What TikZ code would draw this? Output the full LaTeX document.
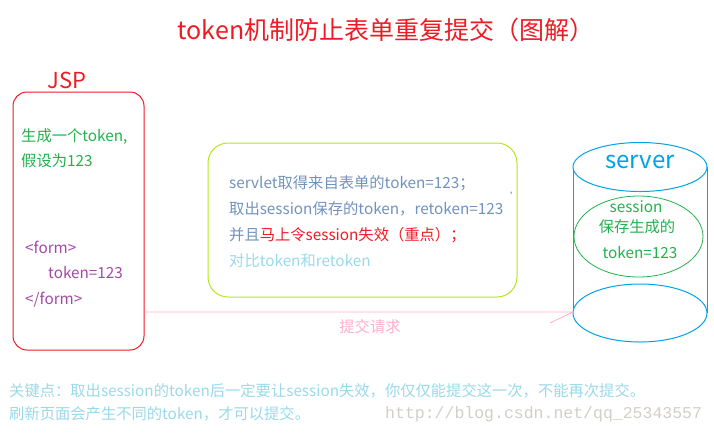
\documentclass[tikz,border=0pt]{standalone}
\usepackage{fontspec}
\setmainfont{Noto Sans CJK SC}
\newfontfamily\urlfont{Liberation Mono}
\definecolor{pred}{HTML}{ED1C24}
\definecolor{pgreen}{HTML}{22B14C}
\definecolor{ppurple}{HTML}{A349A4}
\definecolor{plime}{HTML}{B5E61D}
\definecolor{pblue}{HTML}{7092BE}
\definecolor{pcyan}{HTML}{99D9EA}
\definecolor{psky}{HTML}{00A2E8}
\definecolor{ppink}{HTML}{FFAEC9}
\definecolor{pgray}{HTML}{D2CECA}
\tikzset{
  txt/.style={font=\fontsize{15.3}{18}\selectfont, inner sep=0pt, anchor=base west},
  ctxt/.style={font=\fontsize{15.3}{18}\selectfont, inner sep=0pt, anchor=base},
  box/.style={draw, line width=1pt, rounded corners=#1, inner sep=0pt},
}
\begin{document}
\begin{tikzpicture}[x=1pt,y=-1pt]
\useasboundingbox (0,0) rectangle (714,432);
% title
\node[ctxt, font=\fontsize{25}{30}\selectfont, text=pred] (title) at (386,39.5) {token机制防止表单重复提交（图解）};
% JSP
\node[ctxt, font=\fontsize{22}{26}\selectfont, text=pred] (jsplabel) at (67,88) {JSP};
\node[box=14pt, draw=pred, minimum width=131pt, minimum height=258pt] (jsp) at (78.5,221) {};
\node[txt, text=pgreen] (j1) at (21,141) {生成一个token,};
\node[txt, text=pgreen] (j2) at (21,166) {假设为123};
\node[txt, text=ppurple] (j3) at (25,253) {<form>};
\node[txt, text=ppurple] (j4) at (48,278) {token=123};
\node[txt, text=ppurple] (j5) at (25,304) {</form>};
% servlet box
\node[box=20pt, draw=plime, minimum width=309pt, minimum height=154pt] (mid) at (362.5,220) {};
\node[txt, text=pblue] (m1) at (229,188) {servlet取得来自表单的token=123；};
\node[txt, text=pblue] (m2) at (229,214) {取出session保存的token，retoken=123};
\node[txt, text=pblue] (m3) at (229,240) {并且\textcolor{pred}{马上令session失效（重点）；}};
\node[txt, text=pcyan] (m4) at (229,266) {对比token和retoken};
\node[font=\fontsize{10}{10}\selectfont, text=gray, inner sep=0pt] (mark) at (515,196) {’};
% server cylinder
\draw[psky, line width=1pt] (573,167) -- (573,313) (707,167) -- (707,313);
\draw[psky, line width=1pt, fill=white] (640,167) ellipse [x radius=67, y radius=24.5];
\draw[psky, line width=1pt, fill=white] (640,313) ellipse [x radius=67, y radius=29];
\coordinate (cylL) at (573,312);
\node[ctxt, font=\fontsize{24}{28}\selectfont, text=psky] (server) at (640,168) {server};
\draw[pgreen, line width=0.8pt] (638.5,236.5) ellipse [x radius=64.5, y radius=40.5];
\node[ctxt, text=pgreen] (s1) at (636,212) {session};
\node[ctxt, text=pgreen] (s2) at (637,232) {保存生成的};
\node[ctxt, text=pgreen] (s3) at (640,258) {token=123};
% request arrow
\coordinate (barb) at (550,323);
\draw[ppink, line width=0.8pt] (jsp.east |- cylL) -- (cylL) -- (barb);
\node[ctxt, text=ppink] (req) at (370,332) {提交请求};
% bottom notes
\node[txt, text=pcyan] (n1) at (9,396) {关键点：取出session的token后一定要让session失效，你仅仅能提交这一次，不能再次提交。};
\node[txt, text=pcyan] (n2) at (9,419) {刷新页面会产生不同的token，才可以提交。};
\node[inner sep=0pt, anchor=base west, font=\urlfont\fontsize{16.5}{18}\selectfont, text=pgray] (url) at (385,418) {http://blog.csdn.net/qq\_25343557};
\end{tikzpicture}
\end{document}
